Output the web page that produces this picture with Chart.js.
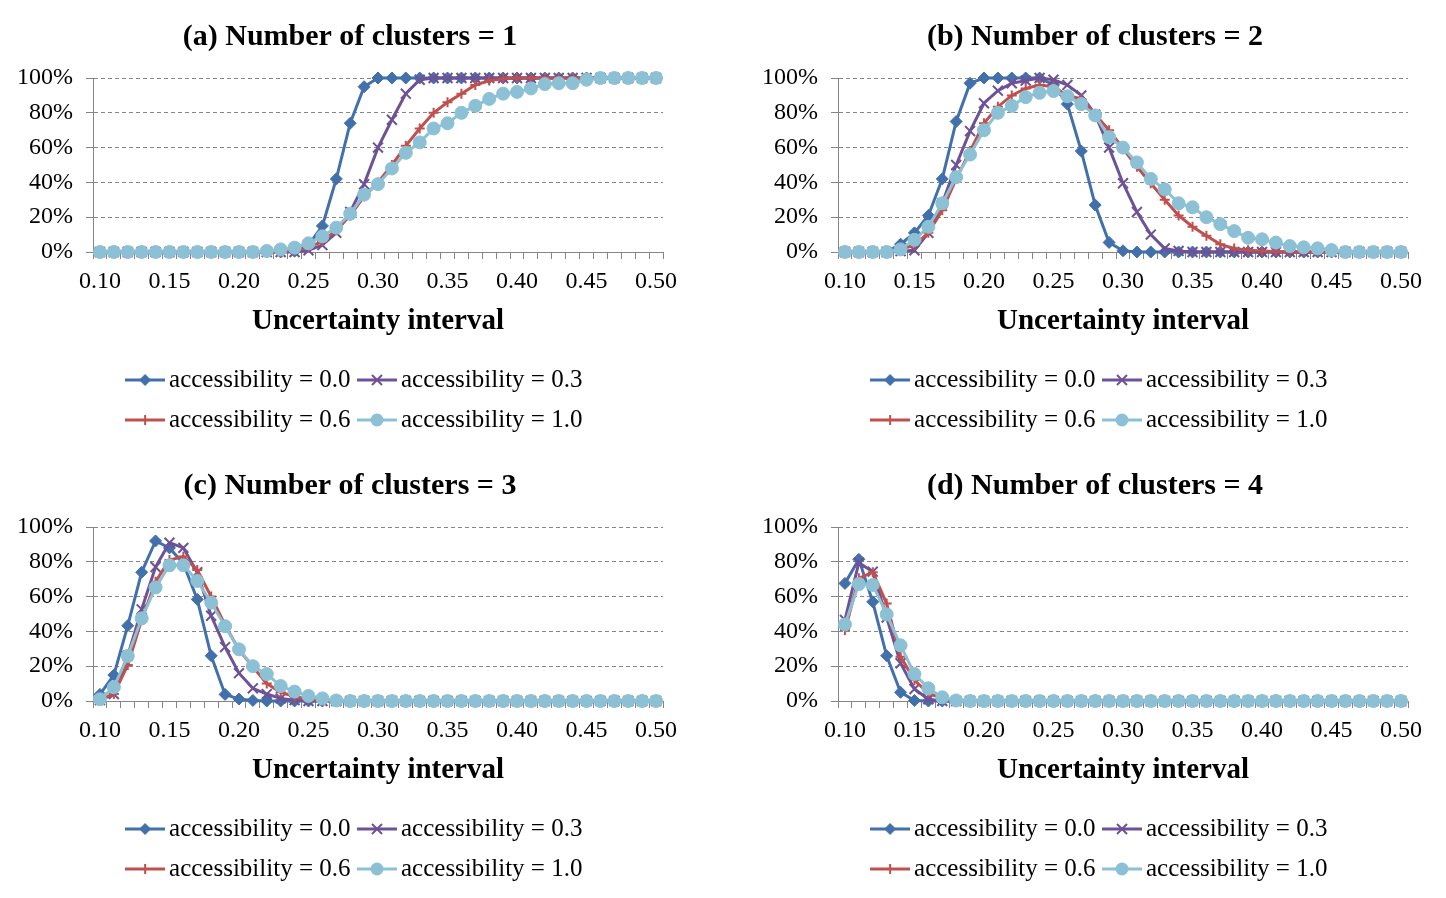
<!DOCTYPE html>
<html>
<head>
<meta charset="utf-8">
<script src="https://cdn.jsdelivr.net/npm/chart.js@4/dist/chart.umd.min.js"></script>
<style>
  body { margin: 0; background: #fff; width: 1446px; height: 898px; position: relative; overflow: hidden; }
  .panel { position: absolute; width: 700px; height: 449px; }
  .panel canvas { display: block; }
</style>
</head>
<body>
<div class="panel" style="left:0;top:0"><canvas id="chartA" width="700" height="449"></canvas></div>
<div class="panel" style="left:745px;top:0"><canvas id="chartB" width="700" height="449"></canvas></div>
<div class="panel" style="left:0;top:449px"><canvas id="chartC" width="700" height="449"></canvas></div>
<div class="panel" style="left:745px;top:449px"><canvas id="chartD" width="700" height="449"></canvas></div>
<script>
// x categories (uncertainty interval)
const xLabels = [
  "0.10", "0.11", "0.12", "0.13", "0.14", "0.15", "0.16", "0.17", "0.18", "0.19",
  "0.20", "0.21", "0.22", "0.23", "0.24", "0.25", "0.26", "0.27", "0.28", "0.29",
  "0.30", "0.31", "0.32", "0.33", "0.34", "0.35", "0.36", "0.37", "0.38", "0.39",
  "0.40", "0.41", "0.42", "0.43", "0.44", "0.45", "0.46", "0.47", "0.48", "0.49",
  "0.50"
];
const seriesNames = ["accessibility = 0.0", "accessibility = 0.3", "accessibility = 0.6", "accessibility = 1.0"];
const panelTitles = [
  "(a) Number of clusters = 1",
  "(b) Number of clusters = 2",
  "(c) Number of clusters = 3",
  "(d) Number of clusters = 4"
];
const yTicks = [0, 20, 40, 60, 80, 100];

// (a) clusters = 1, values in %
const a00 = [0,0,0,0,0,0,0,0,0,0, 0,0,0,0,0.5,4,15,42,74,95, 100,100,100,100,100,100,100,100,100,100, 100,100,100,100,100,100,100,100,100,100, 100];
const a03 = [0,0,0,0,0,0,0,0,0,0, 0,0,0,0,0,1,4,11,23,39, 60,76,91,99,100,100,100,100,100,100, 100,100,100,100,100,100,100,100,100,100, 100];
const a06 = [0,0,0,0,0,0,0,0,0,0, 0,0,0,0,1,3,6,12.5,21,32, 40,50,61,71,80,86,91,96,98.5,99.5, 100,100,100,100,100,100,100,100,100,100, 100];
const a10 = [0,0,0,0,0,0,0,0,0,0, 0,0,0.6,1.5,2.5,5,9,14,22,33, 39,48,57,63,71,74,80,84,88,91, 92,94,96.5,97,97,99,100,100,100,100, 100];

// (b) clusters = 2
const b00 = [0,0,0,0,4.5,11,21,42,75,97, 100,100,100,100,100,96,85,58,27,5.5, 0.7,0,0,0,0,0,0,0,0,0, 0,0,0,0,0,0,0,0,0,0, 0];
const b03 = [0,0,0,0,0.5,1,11,28,50,69.5, 85.5,92.7,97,98.5,100,99,96,90,79,60, 39.5,23,10,2,0.6,0,0,0,0,0, 0,0,0,0,0,0,0,0,0,0, 0];
const b06 = [0,0,0,0,1.5,4,11,24,42,58, 74,83.5,90,94,96,95,90,88,79,70, 59.5,49,39.5,30,21,14.5,9.4,4.4,2,1, 0.6,0.3,0,0,0,0,0,0,0,0, 0];
const b10 = [0,0,0,0,1.5,7,14.5,28,43,56, 70,80,84,89,91.5,92.5,89.5,85,78.5,66, 60,51.5,42,36,28,25.7,20,16,12,8.2, 7.3,5.4,3.4,2.7,2.1,1.1,0,0,0,0, 0];

// (c) clusters = 3
const c00 = [3.8,14.9,43.3,74,92,88,79,58.4,26,3.8, 1.1,0.3,0,0,0,0,0,0,0,0, 0,0,0,0,0,0,0,0,0,0, 0,0,0,0,0,0,0,0,0,0, 0];
const c03 = [0.5,4,26,52.7,77,91,88,74,49,31, 16,7.3,4,1.5,0.5,0,0,0,0,0, 0,0,0,0,0,0,0,0,0,0, 0,0,0,0,0,0,0,0,0,0, 0];
const c06 = [1,4,20.7,46.6,68.6,81,83,75.3,60,43.7, 29.3,19.7,10,5,2.6,1,0.3,0,0,0, 0,0,0,0,0,0,0,0,0,0, 0,0,0,0,0,0,0,0,0,0, 0];
const c10 = [1,7.9,25.9,47.5,65.3,78,78,69,56.5,43, 29.7,20,15.5,8.6,5.4,2.9,1.5,0.3,0,0, 0,0,0,0,0,0,0,0,0,0, 0,0,0,0,0,0,0,0,0,0, 0];

// (d) clusters = 4
const d00 = [67.6,81.4,57,26,5,0.3,0,0,0,0, 0,0,0,0,0,0,0,0,0,0, 0,0,0,0,0,0,0,0,0,0, 0,0,0,0,0,0,0,0,0,0, 0];
const d03 = [46.6,79.5,74.3,48,21.7,6.9,1,0,0,0, 0,0,0,0,0,0,0,0,0,0, 0,0,0,0,0,0,0,0,0,0, 0,0,0,0,0,0,0,0,0,0, 0];
const d06 = [40.8,70.5,74,56,25.5,12,4.4,1.5,0,0, 0,0,0,0,0,0,0,0,0,0, 0,0,0,0,0,0,0,0,0,0, 0,0,0,0,0,0,0,0,0,0, 0];
const d10 = [44,67.2,66.7,49.8,32,15.5,7.3,2.1,0.3,0, 0,0,0,0,0,0,0,0,0,0, 0,0,0,0,0,0,0,0,0,0, 0,0,0,0,0,0,0,0,0,0, 0];

// styles
const colors = ["#4270AA", "#6E5296", "#C0504D", "#8CC1D5"];
const markers = ["rectRot", "crossRot", "cross", "circle"];
const markerSizes = [6, 7, 5, 6.5];
const markerBorders = [1, 2, 2, 1];
const serif = "'Liberation Serif', 'Times New Roman', serif";
const axisGray = "#868686";

Chart.defaults.font.family = serif;

// small line + marker picture used as the legend symbol
function legendIcon(color, style) {
  const c = document.createElement("canvas");
  c.width = 40;
  c.height = 18;
  const g = c.getContext("2d");
  g.strokeStyle = color;
  g.fillStyle = color;
  g.lineWidth = 3;
  g.beginPath();
  g.moveTo(0, 9);
  g.lineTo(40, 9);
  g.stroke();
  g.lineWidth = 2;
  g.beginPath();
  if (style === "rectRot") {
    g.moveTo(14, 9); g.lineTo(20, 3); g.lineTo(26, 9); g.lineTo(20, 15);
    g.closePath(); g.fill();
  } else if (style === "crossRot") {
    g.moveTo(15, 4); g.lineTo(25, 14); g.moveTo(25, 4); g.lineTo(15, 14);
    g.stroke();
  } else if (style === "cross") {
    g.moveTo(20, 4); g.lineTo(20, 14); g.moveTo(15, 9); g.lineTo(25, 9);
    g.stroke();
  } else {
    g.arc(20, 9, 6.5, 0, Math.PI * 2);
    g.fill();
  }
  return c;
}
const legendIcons = colors.map((col, k) => legendIcon(col, markers[k]));

// nudge the legend a few px right so the rows sit where Excel put them
const legendNudge = {
  id: "legendNudge",
  afterLayout(chart) {
    chart.legend.left += 8;
    chart.legend.right += 8;
  }
};

const panels = [
  { id: "chartA", title: panelTitles[0], series: [a00, a03, a06, a10] },
  { id: "chartB", title: panelTitles[1], series: [b00, b03, b06, b10] },
  { id: "chartC", title: panelTitles[2], series: [c00, c03, c06, c10] },
  { id: "chartD", title: panelTitles[3], series: [d00, d03, d06, d10] }
];

function makeChart(p) {
  const datasets = p.series.map((values, k) => ({
    label: seriesNames[k],
    data: values,
    borderColor: colors[k],
    backgroundColor: colors[k],
    pointBackgroundColor: colors[k],
    pointBorderColor: colors[k],
    pointStyle: markers[k],
    pointRadius: markerSizes[k],
    pointBorderWidth: markerBorders[k],
    borderWidth: 3,
    tension: 0,
    clip: false,
    order: 4 - k // last series drawn on top, like Excel
  }));

  return new Chart(document.getElementById(p.id), {
    type: "line",
    data: { labels: xLabels, datasets: datasets },
    plugins: [legendNudge],
    options: {
      responsive: false,
      animation: false,
      devicePixelRatio: 1,
      layout: { padding: { left: 15, right: 15, top: 0, bottom: 6.5 } },
      plugins: {
        title: {
          display: true,
          text: p.title,
          color: "#000",
          font: { family: serif, size: 30, weight: "bold" },
          padding: { top: 19, bottom: 23 }
        },
        legend: {
          position: "bottom",
          labels: {
            usePointStyle: true,
            pointStyleWidth: 23,
            padding: 15,
            color: "#000",
            font: { family: serif, size: 25 },
            generateLabels: (chart) =>
              chart.data.datasets.map((ds, k) => ({
                text: ds.label,
                pointStyle: legendIcons[k],
                fillStyle: ds.borderColor,
                strokeStyle: ds.borderColor,
                lineWidth: 0,
                hidden: false,
                datasetIndex: k,
                fontColor: "#000"
              }))
          }
        },
        tooltip: { enabled: false }
      },
      scales: {
        x: {
          type: "category",
          offset: true,
          grid: { offset: true, drawOnChartArea: false, drawTicks: true, tickLength: 7, color: axisGray },
          border: { color: axisGray },
          ticks: {
            autoSkip: false,
            maxRotation: 0,
            padding: 8,
            color: "#000",
            font: { family: serif, size: 24 },
            callback: (v, i) => (i % 5 === 0 ? xLabels[i] : "")
          },
          title: {
            display: true,
            text: "Uncertainty interval",
            color: "#000",
            font: { family: serif, size: 29, weight: "bold" },
            padding: { top: 0, bottom: 14 }
          },
          afterFit: (s) => { s.height = 100.5; }
        },
        y: {
          min: yTicks[0],
          max: yTicks[yTicks.length - 1],
          grid: { color: axisGray, tickLength: 7 },
          border: { color: axisGray, dash: [4, 3] },
          ticks: {
            stepSize: yTicks[1] - yTicks[0],
            padding: 13,
            color: "#000",
            font: { family: serif, size: 24 },
            callback: (v) => v + "%"
          },
          afterFit: (s) => { s.width = 78; }
        },
        // empty spacer on the right so the plot ends where the original does
        yr: {
          type: "linear",
          position: "right",
          display: true,
          grid: { display: false },
          border: { display: false },
          ticks: { display: false },
          afterFit: (s) => { s.width = 22; }
        }
      }
    }
  });
}

panels.forEach(makeChart);
</script>
</body>
</html>
